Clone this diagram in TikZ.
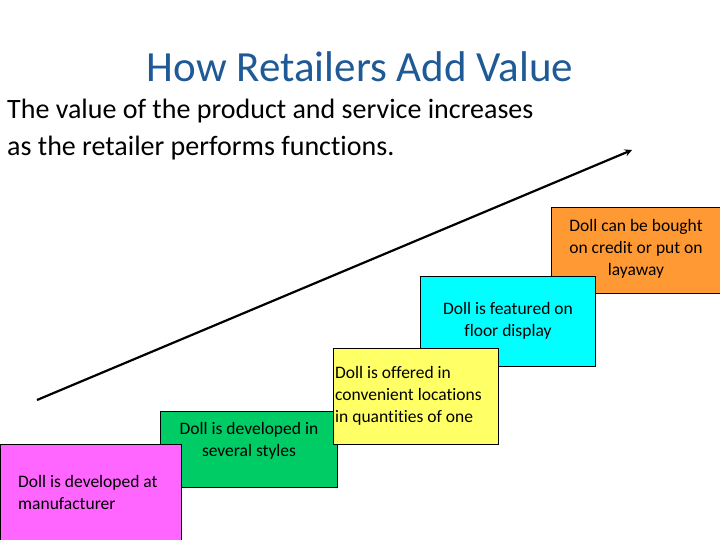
\documentclass[tikz,border=0pt]{standalone}
\usepackage{fontspec}
\setmainfont[Ligatures=NoCommon]{Carlito}
\definecolor{ttl}{HTML}{1F5A96}
\definecolor{cor}{HTML}{FF9933}
\definecolor{ccy}{HTML}{00FFFF}
\definecolor{cgr}{HTML}{00CC66}
\definecolor{cye}{HTML}{FFFF66}
\definecolor{cma}{HTML}{FF66FF}
\begin{document}
\begin{tikzpicture}[x=1pt,y=-1pt,
  txt/.style={inner sep=0pt,font=\fontsize{17.5}{22}\selectfont}]
\useasboundingbox (0,0) rectangle (720,540);
\node[anchor=center,text=ttl,font=\fontsize{43}{50}\selectfont] (title) at (360,67) {How Retailers Add Value};
\node[anchor=north west,align=left,inner sep=0pt,font=\fontsize{28}{37}\selectfont] (sub) at (7,99) {The value of the product and service increases\\as the retailer performs functions.};
\coordinate (a0) at (37,400);
\coordinate (a1) at (632,150);
\draw[line width=2.2pt,-stealth] (a0) -- (a1);
\fill[fill=cor] (551,207) rectangle (720,293);
\draw[line width=0.8pt] (720,207) -- (551,207) -- (551,293) -- (720,293);
\node[txt,align=center] (o) at (636,249) {Doll can be bought\\on credit or put on\\layaway};
\draw[line width=0.8pt,fill=ccy] (420,276) rectangle (595,366);
\node[txt,align=center] (c) at (508,321) {Doll is featured on\\floor display};
\draw[line width=0.8pt,fill=cgr] (160,411) rectangle (337,487);
\node[txt,align=center] (g) at (249,441) {Doll is developed in\\several styles};
\draw[line width=0.8pt,fill=cye] (333,348) rectangle (498,444);
\node[txt,align=left,anchor=west] (y) at (335,396) {Doll is offered in\\convenient locations\\in quantities of one};
\draw[line width=0.8pt,fill=cma] (0,444) rectangle (181,541);
\node[txt,align=left,anchor=west] (m) at (18,492) {Doll is developed at\\manufacturer};
\end{tikzpicture}
\end{document}
